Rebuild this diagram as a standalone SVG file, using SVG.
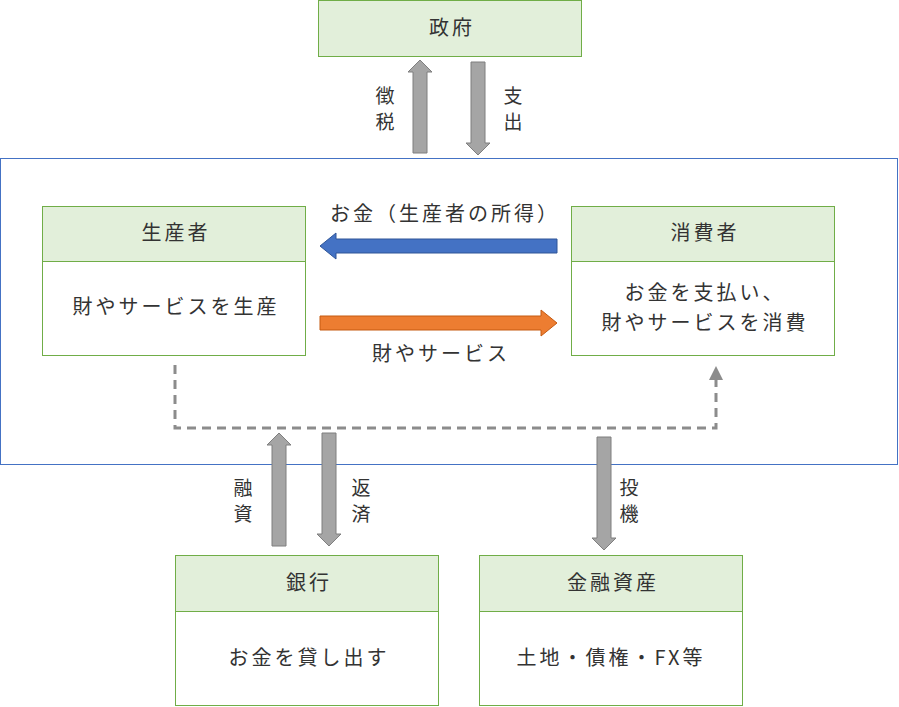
<svg xmlns="http://www.w3.org/2000/svg" width="899" height="707" viewBox="0 0 899 707">
<style>
.h{fill:#e2efda;stroke:#70ad47;stroke-width:1}
.b{fill:#fff;stroke:#70ad47;stroke-width:1}
text{font-family:"Noto Sans CJK JP","Noto Sans",sans-serif;font-size:20px;letter-spacing:3px;fill:#333;text-anchor:middle}
.v{font-size:19px;letter-spacing:0}
.g{fill:#a5a5a5;stroke:#7f7f7f;stroke-width:1}
</style>
<rect width="899" height="707" fill="#fff"/>
<g id="economy"><rect x="0.5" y="158.5" width="897" height="306" fill="none" stroke="#4472c4"/></g>
<g id="gov"><rect class="h" x="318.5" y="0.5" width="263" height="56"/><text x="452" y="35">政府</text></g>
<g id="producer"><rect class="b" x="42.5" y="206.5" width="263" height="149"/><rect class="h" x="42.5" y="206.5" width="263" height="55"/><text x="176" y="240">生産者</text><text x="176" y="314">財やサービスを生産</text></g>
<g id="consumer"><rect class="b" x="571.5" y="206.5" width="263" height="149"/><rect class="h" x="571.5" y="206.5" width="263" height="55"/><text x="705" y="240">消費者</text><text x="705" y="300">お金を支払い、</text><text x="705" y="330">財やサービスを消費</text></g>
<g id="bank"><rect class="b" x="175.5" y="555.5" width="263" height="150"/><rect class="h" x="175.5" y="555.5" width="263" height="56"/><text x="309" y="590">銀行</text><text x="309" y="665">お金を貸し出す</text></g>
<g id="assets"><rect class="b" x="479.5" y="555.5" width="263" height="150"/><rect class="h" x="479.5" y="555.5" width="263" height="56"/><text x="613" y="590">金融資産</text><text x="611" y="665">土地・債権・FX等</text></g>
<g id="connectors">
<path class="g" d="M413,153 V72 H408 L420,60 L432,72 H427 V153 Z"/>
<path class="g" d="M471,62 V143 H466 L478,155 L490,143 H485 V62 Z"/>
<path d="M557,239 H336 V233 L320,246 L336,259 V253 H557 Z" fill="#4472c4" stroke="#2f5597"/>
<path d="M320,316 H541 V310 L557,323 L541,336 V330 H320 Z" fill="#ed7d31" stroke="#c55a11"/>
<path d="M175,365 V428 H716 V378" fill="none" stroke="#8c8c8c" stroke-width="3" stroke-dasharray="9,6"/>
<path d="M709,380 L716,366 L723,380 Z" fill="#8c8c8c"/>
<path class="g" d="M272,546 V445 H267 L279,433 L291,445 H286 V546 Z"/>
<path class="g" d="M322,433 V534 H317 L329,546 L341,534 H336 V433 Z"/>
<path class="g" d="M597,437 V538 H592 L604,550 L616,538 H611 V437 Z"/>
<text class="v" x="385" y="103">徴</text><text class="v" x="385" y="129">税</text>
<text class="v" x="513" y="103">支</text><text class="v" x="513" y="129">出</text>
<text x="445" y="221">お金（生産者の所得）</text>
<text x="441" y="361">財やサービス</text>
<text class="v" x="243" y="495">融</text><text class="v" x="243" y="521">資</text>
<text class="v" x="361" y="495">返</text><text class="v" x="361" y="521">済</text>
<text class="v" x="629" y="495">投</text><text class="v" x="629" y="521">機</text>
</g>
</svg>
